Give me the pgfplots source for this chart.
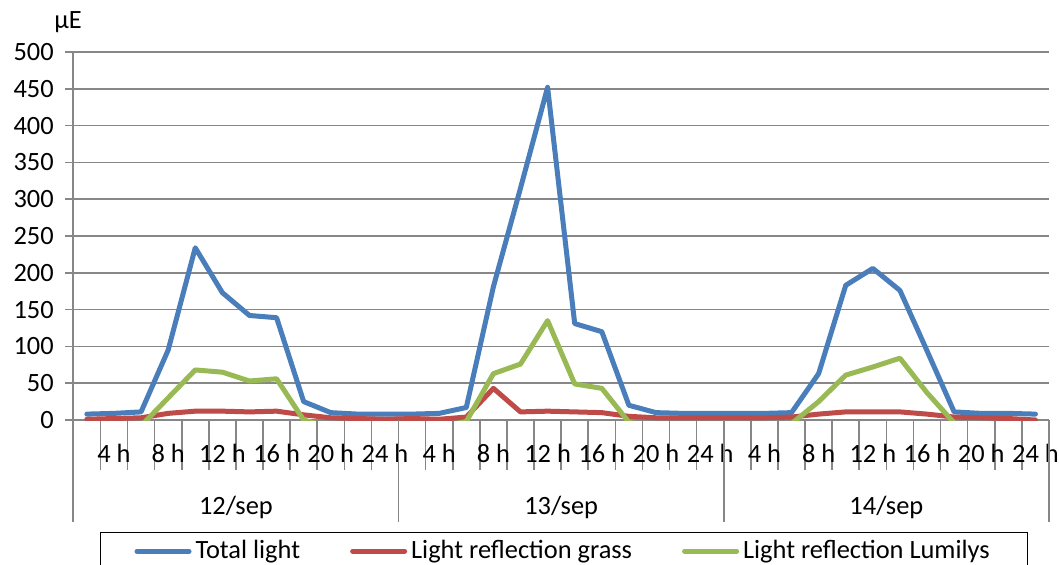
\documentclass[border=0pt]{standalone}
\usepackage{fontspec}
\setmainfont{Carlito}
\usepackage{pgfplots}
\usepackage{pgfplotstable}
\pgfplotsset{compat=1.18}
\definecolor{xlblue}{HTML}{4A7EBB}
\definecolor{xlred}{HTML}{BE4B48}
\definecolor{xlgreen}{HTML}{98B954}
\definecolor{gridgray}{HTML}{878787}

% slot = 2-hour step, 12 per day
\pgfplotstableread{
slot total grass lumilys
1   8    1   -10
2   9    2   -10
3   11   3   -8
4   95   9   30
5   234  12  68
6   173  12  65
7   142  11  53
8   139  12  56
9   25   7   0
10  10   3   -10
11  8    2   -10
12  8    1   -10
13  8    2   -10
14  9    1   -10
15  17   4   -2
16  181  43  63
17  315  11  76
18  452  12  135
19  131  11  49
20  120  10  43
21  20   5   -3
22  10   3   -10
23  9    3   -10
24  9    3   -10
25  9    3   -10
26  9    3   -10
27  10   4   -5
28  63   8   25
29  183  11  61
30  206  11  72
31  176  11  84
32  94   8   37
33  11   4   -4
34  9    3   -10
35  9    2   -10
36  8    0   -10
}\lightdata

\begin{document}
\begin{tikzpicture}[font=\fontsize{13.2bp}{15bp}\selectfont]
\useasboundingbox (-36.65bp,-72.5bp) rectangle (492.85bp,210bp);
\begin{axis}[
  scale only axis, width=487.85bp, height=184bp,
  xmin=0.5, xmax=36.5, ymin=0, ymax=500,
  clip mode=individual,
  /pgf/number format/assume math mode=true,
  axis x line*=bottom, axis y line*=left,
  axis line style={draw=gridgray, line width=0.8bp, -},
  tick align=outside,
  ytick={0,50,...,500},
  ymajorgrids, major grid style={draw=gridgray, line width=0.8bp},
  ytick style={draw=gridgray, line width=0.8bp, /pgfplots/major tick length=4bp},
  yticklabel style={xshift=-2bp},
  xtick={0.5,1.5,...,36.5}, xticklabels={},
  xtick style={draw=gridgray, line width=0.8bp, /pgfplots/major tick length=25bp},
  extra x ticks={2,4,...,36},
  extra x tick labels={4 h,8 h,12 h,16 h,20 h,24 h,4 h,8 h,12 h,16 h,20 h,24 h,4 h,8 h,12 h,16 h,20 h,24 h},
  extra x tick style={/pgfplots/major tick length=0pt, xtick style={draw=none},
    xticklabel style={anchor=base, yshift=-21.3bp}},
  legend columns=3,
  legend style={at={(rel axis cs:0.5,0)}, anchor=north, xshift=1.5bp, yshift=-56bp,
    draw=black, line width=0.5bp, inner xsep=17bp, inner ysep=3bp,
    nodes={inner xsep=2bp, inner ysep=1bp},
    /tikz/every even column/.append style={column sep=23bp}},
  legend image code/.code={\draw[#1] (0bp,0bp) -- (26bp,0bp);},
  every axis plot/.append style={line width=2.5bp, line join=round, line cap=round},
]
\addplot[xlblue] table[x=slot, y=total] {\lightdata};
\addlegendentry{Total light}
\addplot[xlred] table[x=slot, y=grass] {\lightdata};
\addlegendentry{Light reflection grass}
\addplot[xlgreen] table[x=slot, y=lumilys] {\lightdata};
\addlegendentry{Light reflection Lumilys}

\pgfplotsinvokeforeach{0.5,12.5,24.5,36.5}{
  \draw[gridgray, line width=0.8bp] (axis cs:#1,0) -- ++(0bp,-51bp);
}
\node[anchor=base] at (axis cs:6.5,0) [yshift=-47bp] {12/sep};
\node[anchor=base] at (axis cs:18.5,0) [yshift=-47bp] {13/sep};
\node[anchor=base] at (axis cs:30.5,0) [yshift=-47bp] {14/sep};
\node at (rel axis cs:0,1) [xshift=-2.65bp, yshift=15bp] {µE};
\end{axis}
\end{tikzpicture}
\end{document}
